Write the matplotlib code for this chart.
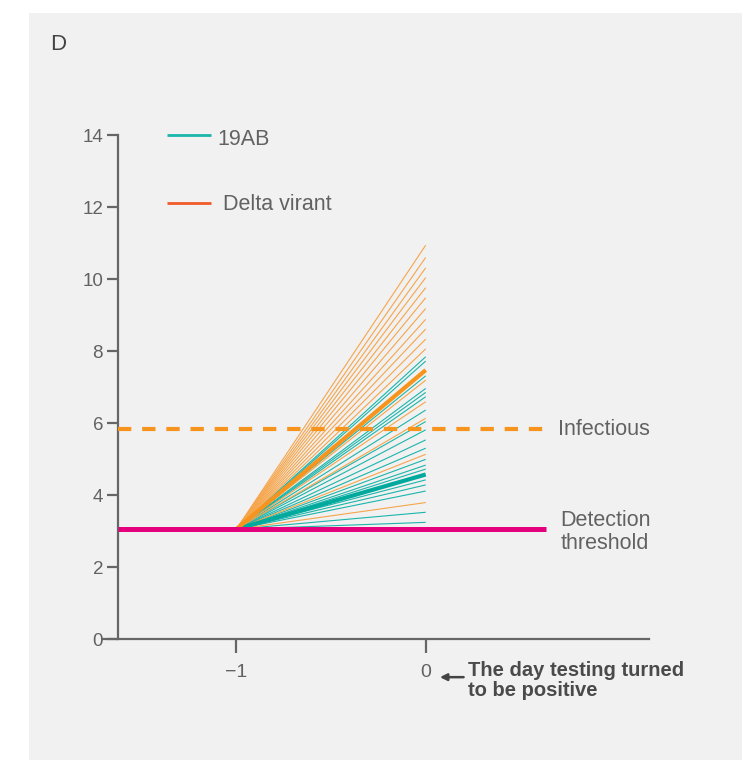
import matplotlib
matplotlib.use("Agg")
import matplotlib.pyplot as plt
from matplotlib.patches import Rectangle

# ---- data ----
start_day = -1
end_day = 0
start_value = 3.05
delta_ends = [10.94, 10.60, 10.31, 10.04, 9.76, 9.48, 9.18, 8.88, 8.61, 8.33,
              8.06, 7.19, 6.59, 6.13, 5.13, 3.79]
ab19_ends = [7.84, 7.72, 7.31, 6.96, 6.85, 6.73, 6.36, 6.04, 5.81, 5.53, 5.30,
             4.99, 4.83, 4.72, 4.42, 4.28, 4.11, 3.52, 3.24]
delta_mean_end = 7.47
ab19_mean_end = 4.57
detection_threshold = 3.05
infectious_level = 5.82
x_ticks = [-1, 0]
x_ticklabels = ["\u22121", "0"]
y_ticks = [0, 2, 4, 6, 8, 10, 12, 14]
legend_labels = ["19AB", "Delta virant"]

TEAL = "#1bb5ab"
TEAL_DARK = "#00a99d"
ORANGE = "#f6a54a"
ORANGE_DARK = "#f7941d"
LEG_ORANGE = "#f15a29"
MAGENTA = "#e5007d"
AXC = "#666666"
TXT = "#626262"

plt.rcParams['font.family'] = ['Liberation Sans', 'DejaVu Sans']

fig = plt.figure(figsize=(7.51, 7.60), dpi=100)
fig.patch.set_facecolor("white")
fig.patches.append(Rectangle((29 / 751, 0), (742 - 29) / 751, (760 - 13) / 760,
                             transform=fig.transFigure, facecolor="#f1f1f1",
                             edgecolor="none", zorder=-10))

ax = fig.add_axes([103 / 751, (760 - 639) / 760, 546 / 751, 504 / 760])
ax.set_facecolor("none")
ax.set_zorder(5)
ax.set_xlim(-1.704, 1.179)
ax.set_ylim(0, 14)
yaxis_x = -1.623

for v in ab19_ends:
    ax.plot([start_day, end_day], [start_value, v], color=TEAL, lw=0.8, zorder=3,
            solid_capstyle="butt")
for v in delta_ends:
    ax.plot([start_day, end_day], [start_value, v], color=ORANGE, lw=0.8, zorder=3,
            solid_capstyle="butt")
ax.plot([start_day, end_day], [start_value, ab19_mean_end], color=TEAL_DARK, lw=3,
        zorder=4, solid_capstyle="butt")
ax.plot([start_day, end_day], [start_value, delta_mean_end], color=ORANGE_DARK, lw=3,
        zorder=4, solid_capstyle="butt")

ax.plot([yaxis_x, 0.634], [detection_threshold] * 2, color=MAGENTA, lw=3.6, zorder=5,
        solid_capstyle="butt")
ax.plot([yaxis_x, 0.634], [infectious_level] * 2, color=ORANGE_DARK, lw=3,
        dashes=(3.2, 2.6), zorder=5)

# legend (manual)
leg_cols = [TEAL, LEG_ORANGE]
leg_y = [14.0, 12.11]
leg_ty = [13.88, 12.08]
leg_tx = [-1.098, -1.072]
for lab, c, y, ty, tx in zip(legend_labels, leg_cols, leg_y, leg_ty, leg_tx):
    ax.plot([-1.367, -1.135], [y, y], color=c, lw=2, clip_on=False,
            solid_capstyle="butt")
    ax.text(tx, ty, lab, fontsize=15.5, color=TXT, va="center", ha="left")

ax.text(0.697, infectious_level, "Infectious", fontsize=15.5, color=TXT,
        va="center", ha="left")
ax.text(0.713, 2.98, "Detection\nthreshold", fontsize=15.5, color=TXT,
        va="center", ha="left", linespacing=1.15)

# spines
for s in ["top", "right"]:
    ax.spines[s].set_visible(False)
ax.spines["left"].set_position(("data", yaxis_x))
ax.spines["left"].set_bounds(0, 14)
for s in ["left", "bottom"]:
    ax.spines[s].set_color(AXC)
    ax.spines[s].set_linewidth(1.6)

ax.set_yticks(y_ticks)
ax.set_yticklabels([str(t) for t in y_ticks])
ax.set_xticks(x_ticks)
ax.set_xticklabels(x_ticklabels)
ax.tick_params(axis="y", length=8, width=1.6, color=AXC, labelsize=13.5,
               labelcolor=TXT, pad=3)
ax.tick_params(axis="x", length=10, width=1.6, color=AXC, labelsize=14,
               labelcolor=TXT, pad=8)

# annotation
ax.annotate("", xy=(0.075, -1.06), xytext=(0.2, -1.06),
            xycoords="data", annotation_clip=False,
            arrowprops=dict(arrowstyle="-|>", color="#444444", lw=1.8,
                            mutation_scale=10, shrinkA=0, shrinkB=0))
ax.text(0.222, -0.62, "The day testing turned\nto be positive", fontsize=14.5,
        fontweight="bold", color="#4a4a4a", va="top", ha="left",
        linespacing=1.02, clip_on=False)

fig.text(50 / 751, 1 - 45 / 760, "D", fontsize=16, color="#444444",
         va="center", ha="left")

fig.savefig("out.png", dpi=100)
